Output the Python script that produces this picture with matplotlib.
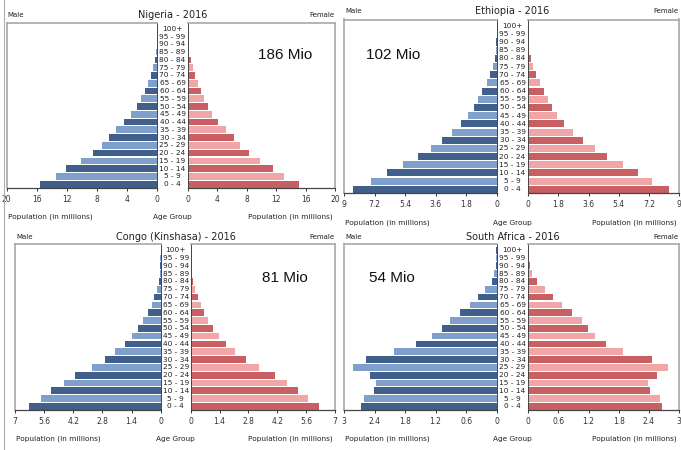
import matplotlib.pyplot as plt
from matplotlib.lines import Line2D
from matplotlib.transforms import blended_transform_factory

ages = ['0 - 4', '5 - 9', '10 - 14', '15 - 19', '20 - 24', '25 - 29', '30 - 34',
        '35 - 39', '40 - 44', '45 - 49', '50 - 54', '55 - 59', '60 - 64',
        '65 - 69', '70 - 74', '75 - 79', '80 - 84', '85 - 89', '90 - 94',
        '95 - 99', '100+']

# population in millions, youngest group first
nigeria_male = [15.6, 13.5, 12.1, 10.1, 8.5, 7.3, 6.4, 5.4, 4.4, 3.4, 2.7,
                2.1, 1.6, 1.2, 0.8, 0.5, 0.27, 0.13, 0.06, 0.03, 0.01]
nigeria_female = [15.1, 13.0, 11.6, 9.8, 8.3, 7.1, 6.2, 5.2, 4.1, 3.3, 2.7,
                  2.2, 1.8, 1.4, 0.9, 0.7, 0.36, 0.18, 0.08, 0.03, 0.01]
ethiopia_male = [8.45, 7.43, 6.48, 5.54, 4.62, 3.89, 3.24, 2.63, 2.10, 1.71,
                 1.36, 1.10, 0.86, 0.59, 0.39, 0.22, 0.10, 0.04, 0.02, 0.01, 0.005]
ethiopia_female = [8.40, 7.41, 6.54, 5.63, 4.70, 3.99, 3.28, 2.69, 2.11, 1.74,
                   1.44, 1.17, 0.91, 0.69, 0.47, 0.30, 0.16, 0.06, 0.02, 0.01, 0.005]
congo_male = [6.31, 5.77, 5.27, 4.66, 4.10, 3.32, 2.68, 2.18, 1.73, 1.39,
              1.07, 0.83, 0.61, 0.43, 0.30, 0.18, 0.10, 0.04, 0.02, 0.01, 0.005]
congo_female = [6.20, 5.67, 5.22, 4.65, 4.09, 3.30, 2.67, 2.16, 1.73, 1.37,
                1.10, 0.86, 0.66, 0.52, 0.36, 0.23, 0.11, 0.05, 0.02, 0.01, 0.005]
safrica_male = [2.67, 2.61, 2.42, 2.37, 2.48, 2.82, 2.57, 2.02, 1.58, 1.28,
                1.07, 0.92, 0.73, 0.53, 0.36, 0.23, 0.10, 0.05, 0.02, 0.01, 0.005]
safrica_female = [2.67, 2.62, 2.42, 2.39, 2.57, 2.78, 2.46, 1.89, 1.55, 1.33,
                  1.19, 1.06, 0.87, 0.68, 0.49, 0.34, 0.18, 0.07, 0.03, 0.01, 0.005]

W, H = 681, 450
male_cols = ['#405f8a', '#7ea0ca']
female_cols = ['#c85f62', '#f0a5a6']
light_spine = '#a8a8a8'
dark_spine = '#454545'

fig = plt.figure(figsize=(W / 100, H / 100), dpi=100)
plt.rcParams['font.family'] = 'DejaVu Sans'


def fx(x):
    return x / W


def fy(y):
    return 1 - y / H


def pyramid(title, male, female, total, xmax, step, left, right, top, bot,
            title_y, label_y, mio_xy):
    height = (bot - top) / H
    axL = fig.add_axes([fx(left[0]), fy(bot), (left[1] - left[0]) / W, height])
    axR = fig.add_axes([fx(right[0]), fy(bot), (right[1] - right[0]) / W, height])
    y = list(range(len(ages)))
    axL.barh(y, male, height=0.86, color=[male_cols[i % 2] for i in y],
             edgecolor='none')
    axR.barh(y, female, height=0.86, color=[female_cols[i % 2] for i in y],
             edgecolor='none')
    ticks = [round(i * step, 2) for i in range(6)]
    for ax in (axL, axR):
        ax.set_ylim(-0.45, 20.75)
        ax.set_yticks([])
        ax.set_xticks(ticks)
        ax.set_xticklabels(['%g' % t for t in ticks])
        ax.tick_params(axis='x', labelsize=5.5, length=2.5, width=0.7,
                       pad=2.5, colors='#333333')
        ax.spines['bottom'].set_color(dark_spine)
        ax.spines['bottom'].set_linewidth(0.9)
        ax.spines['top'].set_color(light_spine)
        ax.spines['top'].set_linewidth(1.2)
    axL.set_xlim(xmax, 0)
    axR.set_xlim(0, xmax)
    axL.spines['left'].set_color(light_spine)
    axL.spines['left'].set_linewidth(1.2)
    axL.spines['right'].set_color(dark_spine)
    axL.spines['right'].set_linewidth(0.7)
    axR.spines['right'].set_color(light_spine)
    axR.spines['right'].set_linewidth(1.2)
    axR.spines['left'].set_color(dark_spine)
    axR.spines['left'].set_linewidth(0.7)

    mid = (left[1] + right[0]) / 2
    tr = blended_transform_factory(fig.transFigure, axL.transData)
    for i, a in enumerate(ages):
        fig.text(fx(mid), i, a, transform=tr, ha='center', va='center',
                 fontsize=5.3, color='#222222')

    fig.text(fx(mid), fy(title_y), title, ha='center', va='center',
             fontsize=7, color='#222222')
    fig.text(fx(left[0] + 1), fy(title_y), 'Male', ha='left', va='center',
             fontsize=5, color='#222222')
    fig.text(fx(right[1] - 1), fy(title_y), 'Female', ha='right', va='center',
             fontsize=5, color='#222222')
    fig.text(fx(left[0] + 1), fy(label_y), 'Population (in millions)',
             ha='left', va='center', fontsize=5.3, color='#222222')
    fig.text(fx(mid), fy(label_y), 'Age Group', ha='center', va='center',
             fontsize=5.3, color='#222222')
    fig.text(fx(right[1] - 2), fy(label_y), 'Population (in millions)',
             ha='right', va='center', fontsize=5.3, color='#222222')
    fig.text(fx(mio_xy[0]), fy(mio_xy[1]), total, ha='center', va='center',
             fontsize=11, family='Liberation Sans', color='#111111')


pyramid('Nigeria - 2016', nigeria_male, nigeria_female, '186 Mio', 20, 4,
        (6.7, 157), (188, 335), 23, 187.7, 15, 217, (285, 55))
pyramid('Ethiopia - 2016', ethiopia_male, ethiopia_female, '102 Mio', 9, 1.8,
        (344, 496.7), (528.3, 679), 19.5, 193, 10.7, 222.7, (393, 55))
pyramid('Congo (Kinshasa) - 2016', congo_male, congo_female, '81 Mio', 7, 1.4,
        (15, 160.7), (190.7, 335), 244.3, 410, 236.7, 439, (285, 278))
pyramid('South Africa - 2016', safrica_male, safrica_female, '54 Mio', 3, 0.6,
        (344, 496.7), (528.3, 679), 244.3, 410, 236.7, 439, (392, 278))

fig.add_artist(Line2D([fx(4), fx(4)], [0, 1], color='#b0b0b0', linewidth=0.8))

fig.savefig('out.png', dpi=100)
